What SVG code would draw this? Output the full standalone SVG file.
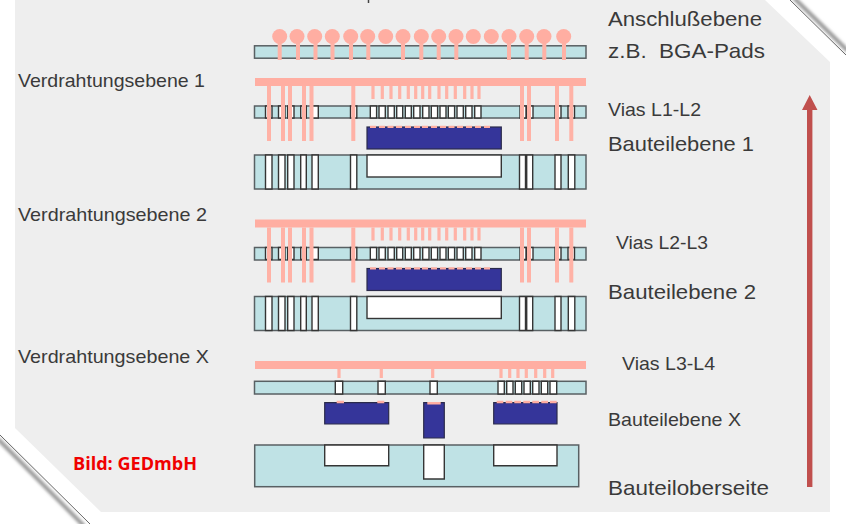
<svg xmlns="http://www.w3.org/2000/svg" width="846" height="524" viewBox="0 0 846 524">
<style>
.t{font-family:"Liberation Sans",Arial,sans-serif;fill:#3a3a3a}
.s{fill:#bfe2e5;stroke:#596063;stroke-width:1.5}
.v{fill:#fff;stroke:#363636;stroke-width:1.4}
.c{fill:#36349a;stroke:#2c2c4c;stroke-width:1.2}
.p{fill:#ffaea2}
.st{fill:none;stroke:#ffb2a6;stroke-width:4}
.sh{fill:none;stroke:#ffb2a6;stroke-width:3.2}
</style>
<defs>
<filter id="soft" x="-5%" y="-5%" width="110%" height="110%"><feGaussianBlur stdDeviation="0.5"/></filter>
<filter id="shadow" x="-20%" y="-20%" width="140%" height="140%"><feGaussianBlur stdDeviation="1.6"/></filter>
<path id="viaL" class="v" d="M265.500 106h6.500v12h-6.500zM278.500 106h6.500v12h-6.500zM287.700 106h6.300v12h-6.300zM300.700 106h5.600v12h-5.600zM312 106h6.300v12h-6.300zM350.500 106h6.300v12h-6.300zM520 106h6v12h-6zM527 106h6v12h-6zM555 106h6v12h-6zM568 106h6.500v12h-6.500z"/>
<path id="viaM" class="v" d="M370.300 106h6.300v12h-6.300zM379 106h6.300v12h-6.300zM388 106h6.300v12h-6.300zM396.700 106h6v12h-6zM405.300 106h6v12h-6zM413.700 106h6.300v12h-6.300zM422.700 106h6.300v12h-6.300zM431.300 106h6.300v12h-6.300zM440 106h6v12h-6zM448.300 106h6.300v12h-6.300zM457 106h6.300v12h-6.300zM465.700 106h6.300v12h-6.300zM474.700 106h6.300v12h-6.300z"/>
<path id="holes" class="v" d="M265.500 155h6.500v34h-6.500zM278.500 155h6.500v34h-6.500zM287.700 155h6.300v34h-6.300zM300.700 155h5.600v34h-5.600zM312 155h6.300v34h-6.300zM350.500 155h6.300v34h-6.300zM519.500 155h6v34h-6zM526.700 155h6v34h-6zM555 155h6v34h-6zM568.300 155h6.500v34h-6.500z"/>
<path id="longs" class="st" d="M269 86v55M283 86v55M290 86v55M304 86v55M311.500 86v55M353.300 86v55M522 86v55M529 86v55M557 86v55M571.300 86v55"/>
<path id="shorts" class="sh" d="M373 86v13M382.300 86v13M391 86v13M399.700 86v13M408.300 86v13M415.700 86v13M422.700 86v13M429.700 86v13M439 86v13M446.700 86v13M455.300 86v13M464.700 86v13M472 86v13M479 86v13"/>
<path id="tops" class="p" d="M370 125.700h6v2.300h-6zM379 125.700h6v2.300h-6zM387.500 125.700h6v2.300h-6zM396 125.700h6v2.300h-6zM405 125.700h6v2.300h-6zM414 125.700h6v2.300h-6zM422 125.700h6v2.300h-6zM431 125.700h6v2.300h-6zM440 125.700h6v2.300h-6zM448.500 125.700h6v2.300h-6zM457 125.700h6v2.300h-6zM466 125.700h6v2.300h-6zM475 125.700h6v2.300h-6zM484 125.700h6v2.300h-6z"/>
</defs>

<rect width="846" height="524" fill="#fff"/>
<g id="frame">
<path d="M-2 439L84 526M794 -2L848 51" fill="none" stroke="#999" stroke-width="4" filter="url(#shadow)"/>
<path d="M0 435L90 524M790 0L846 55" fill="none" stroke="#666" stroke-width="1"/>
<path d="M15 0H765L830 62V512H101L15 428Z" fill="#eeeeee" filter="url(#soft)"/>
<path d="M368.500 0v3" stroke="#444" stroke-width="1.500" fill="none"/>
</g>

<g id="connectors" filter="url(#soft)">
<g id="arrow">
<path d="M809.500 490V110" fill="none" stroke="#888" stroke-width="5" filter="url(#shadow)" opacity=".5"/>
<path d="M807 487V110H802L809.700 95L817.500 110H812.400V487Z" fill="#c0504d"/>
</g>
</g>

<g id="anschluss" filter="url(#soft)">
<rect class="s" x="254.500" y="45.800" width="331.500" height="12.400"/>
<path class="st" d="M279.700 40v20M298 40v20M315.500 40v20M332.500 40v20M351 40v20M368.300 40v20M403 40v20M421.300 40v20M438.700 40v20M456.300 40v20M509 40v20M526.700 40v20M544.300 40v20M564 40v20"/>
<g class="p"><circle cx="279.700" cy="36.500" r="7.500"/><circle cx="297" cy="36.500" r="7.500"/><circle cx="314.700" cy="36.500" r="7.500"/><circle cx="332.300" cy="36.500" r="7.500"/><circle cx="350.700" cy="36.500" r="7.500"/><circle cx="367.700" cy="36.500" r="7.500"/><circle cx="385.700" cy="36.500" r="7.500"/><circle cx="403" cy="36.500" r="7.500"/><circle cx="421.300" cy="36.500" r="7.500"/><circle cx="438.700" cy="36.500" r="7.500"/><circle cx="456" cy="36.500" r="7.500"/><circle cx="473.300" cy="36.500" r="7.500"/><circle cx="491.300" cy="36.500" r="7.500"/><circle cx="509" cy="36.500" r="7.500"/><circle cx="526.700" cy="36.500" r="7.500"/><circle cx="544" cy="36.500" r="7.500"/><circle cx="563.700" cy="36.500" r="7.500"/></g>
</g>

<g id="ebene1" filter="url(#soft)">
<rect class="s" x="254.500" y="106" width="331.500" height="12"/>
<use href="#viaL"/><use href="#viaM"/>
<rect class="p" x="255" y="78" width="331" height="8"/>
<use href="#longs"/><use href="#shorts"/>
<rect class="s" x="254.500" y="155" width="331.500" height="34"/>
<use href="#holes"/>
<rect class="v" x="367" y="155" width="134.300" height="22"/>
<rect class="c" x="367" y="127" width="134.300" height="22"/>
<use href="#tops"/>
</g>

<g id="ebene2" filter="url(#soft)" transform="translate(0 141.500)">
<rect class="s" x="254.500" y="106" width="331.500" height="12.500"/>
<use href="#viaL"/><use href="#viaM"/>
<rect class="p" x="255" y="78" width="331" height="8"/>
<use href="#longs"/><use href="#shorts"/>
<rect class="s" x="254.500" y="155" width="331.500" height="34"/>
<use href="#holes"/>
<rect class="v" x="367" y="155" width="134.300" height="22"/>
<rect class="c" x="367" y="127" width="134.300" height="22"/>
<use href="#tops"/>
</g>

<g id="ebeneX" filter="url(#soft)">
<rect class="p" x="255" y="361" width="331" height="8"/>
<rect class="s" x="254.500" y="381.300" width="331.500" height="12.700"/>
<path class="v" d="M335.300 381.300h7.400v12.700h-7.400zM378 381.300h7.300v12.700h-7.300zM430 381.300h7.300v12.700h-7.300zM498 381.300h6.300v12.700h-6.300zM506.700 381.300h6.300v12.700h-6.300zM515.300 381.300h6.400v12.700h-6.400zM524 381.300h6.300v12.700h-6.300zM532.700 381.300h6.300v12.700h-6.300zM541.300 381.300h6.400v12.700h-6.400zM550 381.300h6.700v12.700h-6.700z"/>
<path class="sh" d="M339 369v9M381.300 369v9M432.700 369v9M501 369v9M509.700 369v9M518 369v9M526.300 369v9M535.700 369v9M544.700 369v9M552.700 369v9"/>
<rect class="s" x="254.700" y="445" width="324" height="41.700"/>
<path class="v" d="M324.700 445h64v20.700h-64zM423.700 445h20.600v34h-20.600zM493.700 445h63.300v20.700h-63.300z"/>
<path class="c" d="M324.700 402.700h64v21.300h-64zM423.700 402.700h20.600v35.300h-20.600zM493.700 402.700h63.300v21.300h-63.300z"/>
<path class="p" d="M336.700 400.700h7.300v2.600h-7.300zM377.300 400.700h7v2.600h-7zM427.300 402h13.400v2.500h-13.400zM496.700 400.700h6.600v2.600h-6.600zM505.700 400.700h6.600v2.600h-6.600zM514.300 400.700h6.700v2.600h-6.700zM523.300 400.700h6.700v2.600h-6.700zM532.300 400.700h6.700v2.600h-6.700zM541.300 400.700h6.700v2.600h-6.700zM550 400.700h6.700v2.600h-6.700z"/>
</g>

<g id="labels">
<text class="t" x="18" y="87" font-size="19" textLength="187" lengthAdjust="spacingAndGlyphs">Verdrahtungsebene 1</text>
<text class="t" x="18" y="221" font-size="19" textLength="189" lengthAdjust="spacingAndGlyphs">Verdrahtungsebene 2</text>
<text class="t" x="18" y="363" font-size="19" textLength="191" lengthAdjust="spacingAndGlyphs">Verdrahtungsebene X</text>
<text class="t" x="608" y="26" font-size="21" textLength="154" lengthAdjust="spacingAndGlyphs">Anschlußebene</text>
<text class="t" x="608" y="58" font-size="21" textLength="157" lengthAdjust="spacingAndGlyphs" xml:space="preserve">z.B.  BGA-Pads</text>
<text class="t" x="608" y="116" font-size="19" textLength="93" lengthAdjust="spacingAndGlyphs">Vias L1-L2</text>
<text class="t" x="608" y="151" font-size="21" textLength="146" lengthAdjust="spacingAndGlyphs">Bauteilebene 1</text>
<text class="t" x="616" y="249" font-size="19" textLength="92" lengthAdjust="spacingAndGlyphs">Vias L2-L3</text>
<text class="t" x="608" y="299" font-size="21" textLength="148" lengthAdjust="spacingAndGlyphs">Bauteilebene 2</text>
<text class="t" x="622" y="370" font-size="19" textLength="93" lengthAdjust="spacingAndGlyphs">Vias L3-L4</text>
<text class="t" x="608" y="426" font-size="19" textLength="133" lengthAdjust="spacingAndGlyphs">Bauteilebene X</text>
<text class="t" x="608" y="495" font-size="21" textLength="161" lengthAdjust="spacingAndGlyphs">Bauteiloberseite</text>
<text x="73" y="470" font-family="'Open Sans','Liberation Sans',sans-serif" font-weight="700" font-size="17.500" fill="#f00000" textLength="124" lengthAdjust="spacingAndGlyphs">Bild: GEDmbH</text>
</g>
</svg>
